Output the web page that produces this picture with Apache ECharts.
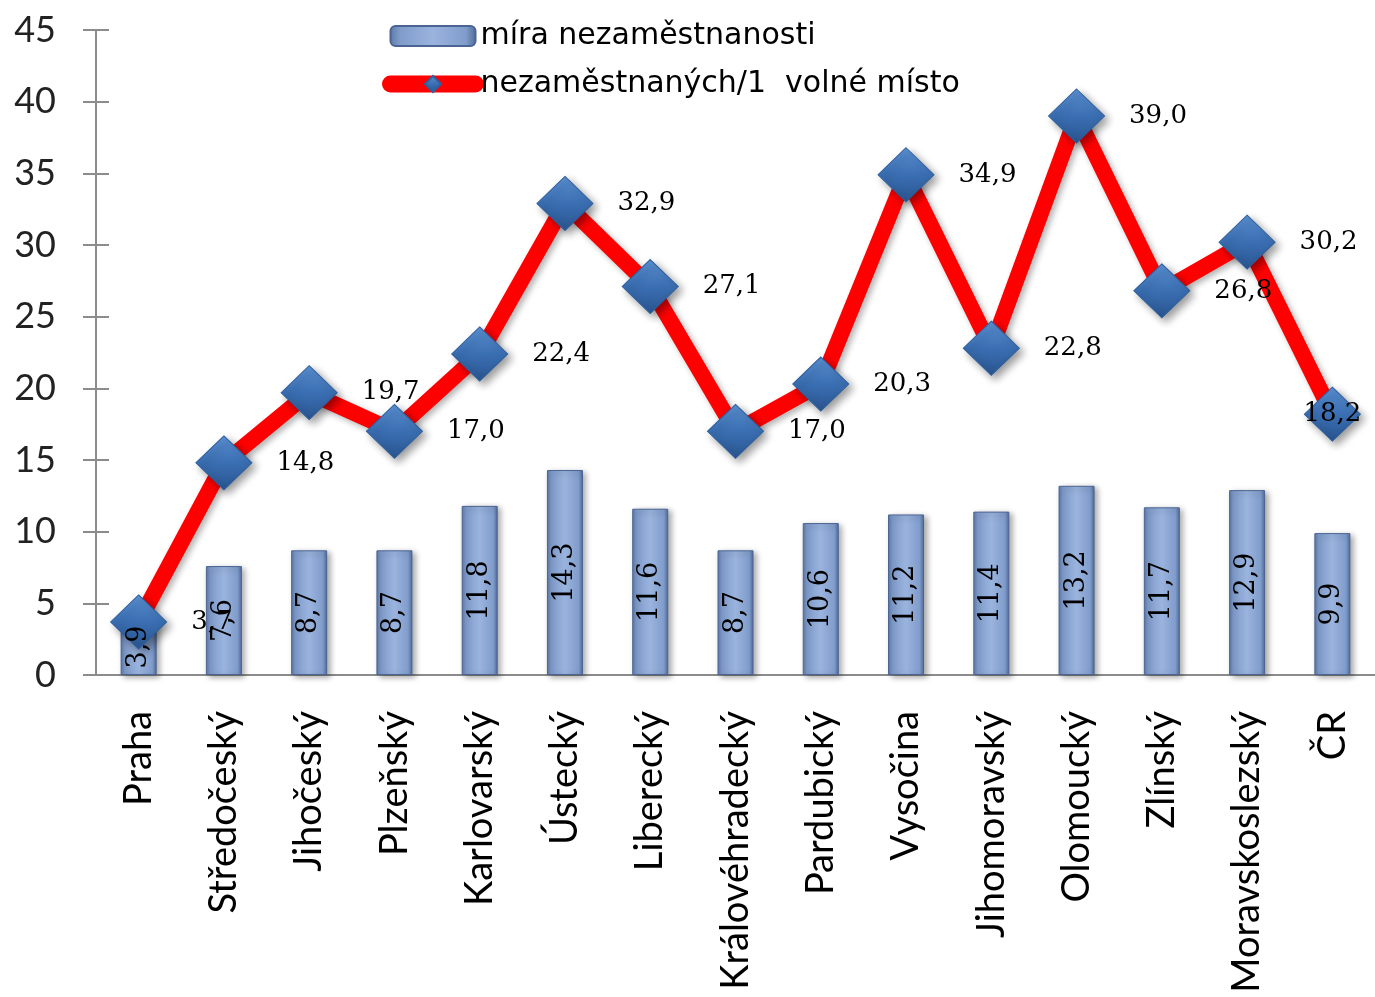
<!DOCTYPE html>
<html>
<head>
<meta charset="utf-8">
<script src="https://cdn.jsdelivr.net/npm/echarts@6/dist/echarts.min.js"></script>
<style>
  html, body { margin: 0; padding: 0; background: #fff; }
  #chart { width: 1375px; height: 997px; }
</style>
</head>
<body>
<div id="chart"></div>
<script>
const categories = ["Praha", "Středočeský", "Jihočeský", "Plzeňský", "Karlovarský", "Ústecký", "Liberecký",
  "Královéhradecký", "Pardubický", "Vysočina", "Jihomoravský", "Olomoucký", "Zlínský", "Moravskoslezský", "ČR"];
const miraNezam = [3.9, 7.6, 8.7, 8.7, 11.8, 14.3, 11.6, 8.7, 10.6, 11.2, 11.4, 13.2, 11.7, 12.9, 9.9];
const naVolneMisto = [3.7, 14.8, 19.7, 17.0, 22.4, 32.9, 27.1, 17.0, 20.3, 34.9, 22.8, 39.0, 26.8, 30.2, 18.2];
const yTicks = { min: 0, max: 45, interval: 5 };

const chart = echarts.init(document.getElementById("chart"));

const fmt = v => String(v.toFixed(1)).replace(".", ",");

// poslední bod má popisek přímo na značce
let lineData = naVolneMisto.map((v, i) => {
  if (i === naVolneMisto.length - 1) {
    return { value: v, label: { position: "inside" } };
  }
  return v;
});

const axisCol = "#8c8c8c";
const barName = "míra nezaměstnanosti";
const lineName = "nezaměstnaných/1  volné místo";

let option = {
  animation: false,
  grid: { left: 96, right: 0, top: 30, bottom: 322 },
  legend: {
    orient: "vertical",
    left: 377,
    top: 16,
    itemWidth: 85,
    itemHeight: 20,
    itemGap: 18,
    textStyle: { fontFamily: "DejaVu Sans", fontSize: 30, color: "#000" },
    data: [
      { name: barName, icon: "roundRect" },
      { name: lineName, lineStyle: { width: 17, cap: "round", color: "#ff0000" } }
    ]
  },
  xAxis: [
    {
      type: "category",
      data: categories,
      axisLine: { lineStyle: { color: axisCol, width: 2 } },
      axisTick: { length: 13, lineStyle: { color: axisCol, width: 2 } },
      axisLabel: {
        rotate: 90,
        interval: 0,
        margin: 36,
        fontFamily: "Lato",
        fontSize: 38,
        color: "#000"
      }
    },
    {
      type: "category",
      data: categories,
      position: "bottom",
      axisLine: { show: false },
      axisTick: { inside: true, length: 6, lineStyle: { color: axisCol, width: 2 } },
      axisLabel: { show: false }
    }
  ],
  yAxis: [
    {
      type: "value",
      min: yTicks.min,
      max: yTicks.max,
      interval: yTicks.interval,
      splitLine: { show: false },
      axisLine: { show: true, lineStyle: { color: axisCol, width: 2 } },
      axisTick: { show: true, length: 13, lineStyle: { color: axisCol, width: 2 } },
      axisLabel: { margin: 40, fontFamily: "Lato", fontSize: 36, color: "#222" }
    },
    {
      type: "value",
      position: "left",
      min: yTicks.min,
      max: yTicks.max,
      interval: yTicks.interval,
      splitLine: { show: false },
      axisLine: { show: false },
      axisTick: { show: true, inside: true, length: 13, lineStyle: { color: axisCol, width: 2 } },
      axisLabel: { show: false }
    }
  ],
  series: [
    {
      name: barName,
      type: "bar",
      data: miraNezam,
      barWidth: 36,
      z: 1,
      itemStyle: {
        color: new echarts.graphic.LinearGradient(0, 0, 1, 0, [
          { offset: 0, color: "#5a77a6" },
          { offset: 0.12, color: "#809ccb" },
          { offset: 0.5, color: "#9ab4de" },
          { offset: 0.88, color: "#809ccb" },
          { offset: 1, color: "#4e6a99" }
        ]),
        borderColor: "#4a6593",
        borderWidth: 1,
        shadowColor: "rgba(0,0,0,0.35)",
        shadowBlur: 6,
        shadowOffsetX: 3,
        shadowOffsetY: 2
      }
    },
    {
      name: lineName,
      type: "line",
      data: lineData,
      z: 3,
      symbol: "diamond",
      symbolSize: [56, 54],
      lineStyle: {
        color: "#ff0000",
        width: 16,
        shadowColor: "rgba(0,0,0,0.3)",
        shadowBlur: 6,
        shadowOffsetX: 3,
        shadowOffsetY: 3
      },
      itemStyle: {
        color: new echarts.graphic.LinearGradient(0, 0, 0, 1, [
          { offset: 0, color: "#5b90d2" },
          { offset: 0.5, color: "#3a6fb3" },
          { offset: 1, color: "#2a5590" }
        ]),
        borderColor: "#2e5f9e",
        borderWidth: 1,
        shadowColor: "rgba(0,0,0,0.4)",
        shadowBlur: 8,
        shadowOffsetX: 4,
        shadowOffsetY: 4
      },
      label: {
        show: true,
        position: "right",
        distance: 24,
        fontFamily: "DejaVu Serif",
        fontSize: 26,
        color: "#000",
        formatter: p => fmt(p.value)
      }
    },
    {
      // popisky sloupců nad značkami čáry
      name: "popisky",
      type: "bar",
      data: miraNezam,
      barWidth: 36,
      barGap: "-100%",
      z: 10,
      silent: true,
      itemStyle: { color: "transparent" },
      label: {
        show: true,
        position: "inside",
        rotate: 90,
        fontFamily: "DejaVu Serif",
        fontSize: 27,
        color: "#000",
        formatter: p => fmt(p.value)
      }
    }
  ]
};

chart.setOption(option);
</script>
</body>
</html>
